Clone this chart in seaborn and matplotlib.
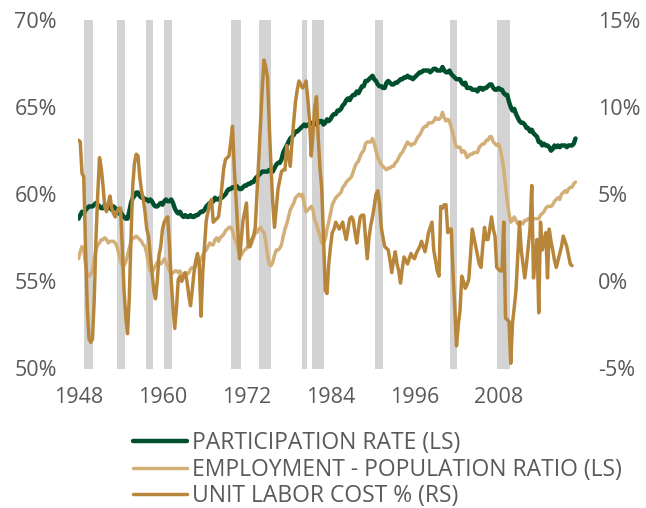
"""Labor market chart: participation, employment-population ratio and unit labor cost."""
import matplotlib
matplotlib.use("Agg")
import matplotlib.pyplot as plt
import numpy as np
import pandas as pd
import seaborn as sns

# quarterly data, one line per year (Q1..Q4)
START_YEAR = 1948

participation = [
    58.6, 58.8, 59.0, 58.9,  59.1, 59.2, 59.3, 59.3,  59.3, 59.4, 59.5, 59.4,
    59.3, 59.2, 59.2, 59.4,  59.3, 59.2, 59.3, 59.1,  59.3, 59.2, 59.1, 58.9,
    59.0, 58.8, 58.7, 58.6,  58.6, 59.0, 59.5, 59.8,  59.9, 60.1, 60.1, 59.9,
    59.8, 59.8, 59.7, 59.7,  59.6, 59.7, 59.6, 59.4,  59.3, 59.3, 59.4, 59.5,
    59.4, 59.6, 59.7, 59.6,  59.6, 59.7, 59.5, 59.2,  59.0, 58.9, 59.0, 58.8,
    58.7, 58.8, 58.7, 58.7,  58.8, 58.7, 58.7, 58.8,  58.8, 58.9, 59.0, 59.0,
    59.1, 59.3, 59.4, 59.5,  59.5, 59.6, 59.8, 59.7,  59.7, 59.8, 59.8, 59.9,
    60.0, 60.2, 60.3, 60.3,  60.4, 60.4, 60.5, 60.4,  60.3, 60.3, 60.4, 60.5,
    60.5, 60.6, 60.6, 60.7,  60.7, 60.9, 61.0, 61.1,  61.2, 61.3, 61.3, 61.3,
    61.3, 61.4, 61.3, 61.3,  61.5, 61.7, 61.8, 61.8,  62.0, 62.4, 62.6, 62.8,
    63.0, 63.2, 63.3, 63.4,  63.6, 63.6, 63.7, 63.8,  63.9, 64.0, 63.9, 64.0,
    64.0, 64.1, 64.0, 64.1,  64.0, 64.1, 64.2, 64.2,  64.0, 64.1, 64.3, 64.2,
    64.3, 64.5, 64.6, 64.6,  64.8, 64.8, 64.9, 65.1,  65.2, 65.4, 65.5, 65.4,
    65.6, 65.7, 65.7, 65.9,  65.8, 66.0, 66.2, 66.2,  66.5, 66.5, 66.6, 66.7,
    66.8, 66.6, 66.5, 66.3,  66.2, 66.2, 66.1, 66.1,  66.4, 66.5, 66.4, 66.3,
    66.3, 66.4, 66.4, 66.5,  66.6, 66.6, 66.7, 66.7,  66.8, 66.7, 66.7, 66.6,
    66.7, 66.8, 66.9, 67.0,  67.0, 67.1, 67.1, 67.1,  67.1, 67.0, 67.1, 67.2,
    67.2, 67.1, 67.1, 67.1,  67.3, 67.1, 67.0, 67.0,  67.1, 66.9, 66.8, 66.7,
    66.6, 66.6, 66.6, 66.4,  66.3, 66.4, 66.1, 66.1,  66.1, 66.0, 66.0, 66.0,
    65.9, 66.1, 66.1, 66.0,  66.1, 66.1, 66.2, 66.3,  66.3, 66.1, 66.0, 66.0,
    66.1, 66.0, 66.0, 65.8,  65.7, 65.7, 65.3, 65.0,  64.8, 64.9, 64.6, 64.4,
    64.2, 64.1, 64.1, 64.0,  63.8, 63.8, 63.6, 63.7,  63.5, 63.4, 63.3, 63.0,
    63.0, 62.8, 62.9, 62.8,  62.8, 62.7, 62.5, 62.6,  62.8, 62.7, 62.8, 62.7,
    62.8, 62.8, 62.8, 62.7,  62.8, 62.8, 62.8, 62.9,  63.2,
]

emp_pop = [
    56.3, 56.7, 57.0, 56.8,  56.0, 55.4, 55.3, 55.4,  55.6, 56.3, 56.8, 57.1,
    57.2, 57.4, 57.4, 57.5,  57.4, 57.2, 57.3, 57.3,  57.3, 57.2, 57.0, 56.6,
    56.2, 55.9, 55.9, 56.1,  56.5, 56.9, 57.3, 57.5,  57.5, 57.6, 57.5, 57.4,
    57.3, 57.1, 57.0, 56.6,  56.0, 55.6, 55.5, 55.7,  55.9, 56.1, 56.1, 56.0,
    56.1, 56.3, 56.1, 55.9,  55.6, 55.4, 55.5, 55.6,  55.6, 55.5, 55.6, 55.4,
    55.4, 55.5, 55.4, 55.5,  55.7, 55.8, 55.7, 55.9,  56.0, 56.1, 56.3, 56.5,
    56.7, 56.8, 57.0, 57.2,  57.1, 57.1, 57.4, 57.5,  57.3, 57.5, 57.6, 57.7,
    57.9, 58.0, 58.1, 58.1,  57.9, 57.5, 57.3, 56.9,  56.6, 56.5, 56.7, 56.8,
    56.9, 57.0, 57.0, 57.2,  57.5, 57.8, 57.8, 58.0,  58.1, 57.9, 57.8, 57.3,
    56.5, 56.0, 55.9, 56.1,  56.5, 56.8, 56.8, 56.9,  57.1, 57.6, 58.0, 58.3,
    58.7, 59.1, 59.3, 59.5,  59.8, 59.9, 60.0, 59.9,  60.0, 59.4, 59.0, 59.1,
    59.2, 59.3, 59.1, 58.5,  58.3, 57.9, 57.6, 57.2,  57.2, 57.4, 58.0, 58.4,
    58.9, 59.4, 59.6, 59.8,  59.9, 60.0, 60.1, 60.4,  60.5, 60.7, 60.8, 60.9,
    61.0, 61.3, 61.6, 61.8,  61.9, 62.2, 62.4, 62.5,  62.9, 63.0, 63.0, 63.0,
    63.2, 62.9, 62.5, 62.1,  61.9, 61.7, 61.6, 61.5,  61.4, 61.5, 61.5, 61.6,
    61.6, 61.8, 61.9, 62.1,  62.3, 62.4, 62.6, 62.8,  63.0, 62.9, 62.8, 62.9,
    62.9, 63.1, 63.3, 63.4,  63.6, 63.8, 63.9, 63.9,  64.1, 64.1, 64.1, 64.2,
    64.4, 64.3, 64.3, 64.4,  64.7, 64.4, 64.2, 64.3,  64.2, 63.8, 63.5, 63.0,
    62.7, 62.7, 62.7, 62.4,  62.5, 62.4, 62.1, 62.2,  62.3, 62.3, 62.4, 62.4,
    62.4, 62.7, 62.8, 62.9,  62.9, 63.1, 63.1, 63.3,  63.3, 63.0, 62.9, 62.8,
    62.9, 62.6, 62.1, 61.4,  60.5, 59.6, 58.9, 58.4,  58.5, 58.7, 58.5, 58.3,
    58.4, 58.4, 58.3, 58.5,  58.5, 58.6, 58.6, 58.7,  58.6, 58.6, 58.6, 58.6,
    58.8, 58.9, 59.0, 59.2,  59.3, 59.3, 59.3, 59.4,  59.6, 59.7, 59.8, 59.7,
    60.0, 60.1, 60.2, 60.1,  60.3, 60.4, 60.4, 60.6,  60.7,
]

unit_labor_cost = [
    8.1, 8.0, 6.2, 6.0,    2.0, -1.5, -3.3, -3.5,  -3.3, -1.0, 2.5, 5.0,
    7.1, 6.5, 5.5, 4.3,    4.0, 4.5, 4.9, 4.2,     3.9, 3.7, 4.0, 4.2,
    4.2, 2.0, -0.5, -2.0,  -3.0, -1.0, 2.5, 5.5,   6.8, 7.3, 7.2, 6.0,
    5.2, 4.7, 4.0, 3.0,    2.6, 1.5, 0.5, -0.5,    -1.0, 0.0, 1.5, 2.0,
    3.0, 3.4, 3.6, 3.7,    2.0, 0.0, -1.5, -2.7,   -1.5, 0.1, 0.3, 0.0,
    0.3, 0.5, 0.0, -0.8,   -1.4, -0.5, 0.5, 1.2,   1.6, 1.0, -2.0, 0.5,
    2.0, 3.5, 4.0, 4.5,    4.7, 3.4, 3.5, 3.6,     3.7, 4.5, 5.5, 6.5,
    7.0, 7.1, 7.2, 8.0,    8.9, 6.5, 4.7, 3.0,     1.3, 2.4, 3.5, 4.0,
    4.5, 2.0, 2.0, 2.4,    2.6, 3.1, 5.0, 7.0,     9.0, 11.1, 12.7, 12.3,
    11.7, 9.0, 6.6, 4.5,   3.1, 4.2, 5.3, 5.8,     6.3, 6.4, 6.4, 7.8,
    7.2, 6.6, 8.0, 9.2,    10.3, 11.0, 11.5, 11.3, 11.1, 11.2, 11.5, 10.5,
    9.2, 7.2, 8.5, 10.0,   10.6, 8.2, 6.5, 5.3,    2.5, -0.5, -0.7, 1.0,
    2.0, 2.8, 3.0, 3.4,    3.2, 3.0, 3.2, 3.4,     2.8, 2.4, 3.0, 3.6,
    3.7, 3.5, 2.8, 2.2,    3.0, 3.7, 3.8, 3.8,     2.5, 1.3, 2.5, 3.2,
    3.7, 4.3, 5.0, 5.2,    4.5, 3.1, 2.5, 2.0,     1.9, 1.8, 1.2, 0.5,
    1.2, 1.7, 1.0, 0.6,    -0.1, 0.7, 1.4, 1.2,    1.0, 1.3, 1.6, 1.4,
    1.3, 1.6, 1.8, 2.0,    2.3, 2.0, 1.7, 2.2,     2.8, 3.1, 3.4, 1.8,
    1.2, 0.6, 0.3, 4.3,    4.2, 4.4, 4.4, 2.8,     3.0, 3.0, 0.5, -1.5,
    -3.7, -2.5, -1.7, 0.3, 0.0, -0.4, -0.2, 0.1,   1.5, 3.0, 2.5, 2.0,
    1.5, 1.0, 0.8, 2.0,    3.1, 2.4, 2.4, 3.0,     3.7, 3.0, 2.6, 0.8,
    0.7, 0.6, 0.6, 3.4,    -2.1, -2.2, -2.3, -4.7, -2.4, -1.5, -0.5, 1.5,
    3.4, 1.8, 1.0, 0.2,    1.0, 2.0, 3.0, 5.5,     0.2, 1.5, 2.4, -1.8,
    3.4, 1.8, 2.3, 2.8,    0.2, 3.0, 2.3, 1.8,     1.2, 0.8, 1.2, 1.6,
    2.0, 2.6, 2.3, 2.0,    1.5, 1.0, 0.9,
]

# shaded recessions (decimal years)
recession_start = [1948.8, 1953.5, 1957.6, 1960.2, 1969.8, 1973.8,
                   1979.95, 1981.4, 1990.4, 2001.05, 2007.8]
recession_end = [1950.1, 1954.65, 1958.6, 1961.35, 1971.2, 1975.5,
                 1980.65, 1983.05, 1991.5, 2002.05, 2009.65]

year_ticks = [1948, 1960, 1972, 1984, 1996, 2008]
left_ticks = [50, 55, 60, 65, 70]
right_ticks = [-5, 0, 5, 10, 15]

GREEN = "#00502E"
TAN = "#D3AF78"
BROWN = "#B8863B"
BAND = "#D3D3D3"
TEXT = "#595959"


def quarters(n):
    return START_YEAR + np.arange(n) * 0.25


lab = pd.DataFrame({"t": quarters(len(participation)),
                    "participation": participation,
                    "emp_pop": emp_pop})
ulc = pd.DataFrame({"t": quarters(len(unit_labor_cost)), "ulc": unit_labor_cost})

sns.set_style("white")
plt.rcParams["font.family"] = ["Open Sans", "DejaVu Sans"]
FS = 15.5

fig = plt.figure(figsize=(6.46, 5.08), dpi=100)
ax = fig.add_axes([77.8 / 646, 139.5 / 508, 500.5 / 646, 348.5 / 508])
ax2 = ax.twinx()

for s, e in zip(recession_start, recession_end):
    ax.axvspan(s, e, color=BAND, lw=0, zorder=0)

sns.lineplot(data=lab, x="t", y="participation", ax=ax, color=GREEN, lw=3.2,
             label="PARTICIPATION RATE (LS)", legend=False)
sns.lineplot(data=lab, x="t", y="emp_pop", ax=ax, color=TAN, lw=2.5,
             label="EMPLOYMENT - POPULATION RATIO (LS)", legend=False)
sns.lineplot(data=ulc, x="t", y="ulc", ax=ax2, color=BROWN, lw=2.5,
             label="UNIT LABOR COST % (RS)", legend=False)

ax.set_xlim(1947.9, 2019.4)
ax.set_ylim(50, 70)
ax2.set_ylim(-5, 15)
ax.set_xticks(year_ticks)
ax.set_xticklabels([str(y) for y in year_ticks])
ax.set_yticks(left_ticks)
ax.set_yticklabels([f"{v}%" for v in left_ticks])
ax2.set_yticks(right_ticks)
ax2.set_yticklabels([f"{v}%" for v in right_ticks])

for a in (ax, ax2):
    a.set_xlabel("")
    a.set_ylabel("")
    for sp in a.spines.values():
        sp.set_visible(False)
    a.tick_params(length=0, labelsize=FS, labelcolor=TEXT)
ax.tick_params(axis="x", pad=13)
ax.tick_params(axis="y", pad=15)
ax2.tick_params(axis="y", pad=14)

handles = ax.get_lines()[:2] + ax2.get_lines()[:1]
leg = fig.legend(handles, [h.get_label() for h in handles], loc="upper left",
                 bbox_to_anchor=(133 / 646, 77 / 508), frameon=False,
                 fontsize=16.5, handlelength=2.35, handletextpad=0.22,
                 labelspacing=0.12, borderpad=0, borderaxespad=0)
for t in leg.get_texts():
    t.set_color(TEXT)

fig.savefig("out.png", dpi=100)
